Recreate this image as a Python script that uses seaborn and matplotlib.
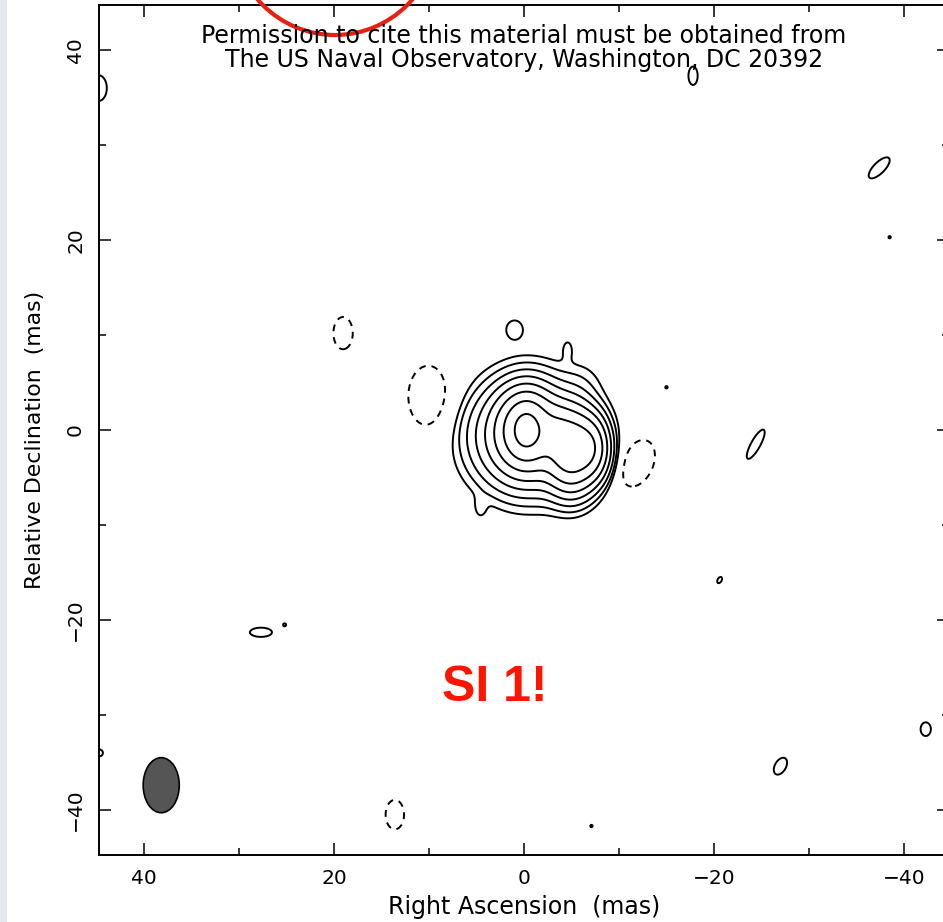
import numpy as np
import matplotlib
matplotlib.use("Agg")
import matplotlib.pyplot as plt
from matplotlib.patches import Ellipse, Rectangle
from matplotlib.ticker import MultipleLocator
import seaborn as sns

# ---- source model: Gaussian components (offsets in mas, flux in units of the lowest contour)
#      core (3 scales), faint envelope, secondary body / edge / bridge, outer extensions
src_ra = [-0.25, -0.25, -0.25, -1.0, -5.0, -7.1, -3.4, -6.0, -4.6, 4.6]
src_dec = [0.1, 0.1, -0.7, -0.5, -2.0, -1.9, 0.3, 5.0, 8.6, -8.2]
src_flux = [41.0, 94.0, 40.0, 2.5, 100.0, 39.0, 15.0, 0.8, 1.0, 1.0]
src_sig_a = [1.0, 1.65, 2.8, 4.5, 1.5, 1.05, 1.0, 1.5, 0.5, 0.5]
src_sig_b = [1.6, 2.2, 2.8, 4.5, 2.3, 1.8, 1.5, 1.5, 0.9, 0.9]
src_pa = [0, 0, 0, 0, 0, 0, 0, 0, 0, 0]

# ---- faint residual patches across the field (negative = dashed)
res_ra = [44.8, -17.8, -37.4, -38.5, 19.05, 1.0, 10.0, -11.8, -15.0,
          -24.4, -20.6, 27.7, 25.2, 44.7, -42.3, -27.0, 13.6, -7.1]
res_dec = [36.0, 37.3, 27.6, 20.3, 10.2, 10.6, 3.5, -3.5, 4.5,
           -1.5, -15.8, -21.3, -20.5, -34.0, -31.5, -35.4, -40.5, -41.7]
res_flux = [1.6, 1.6, 1.6, 1.1, -1.6, 1.6, -1.8, -1.8, 1.1,
            1.6, 1.3, 1.6, 1.1, 1.3, 1.5, 1.6, -1.6, 1.1]
res_sig_a = [0.9, 0.5, 1.5, 0.3, 1.05, 0.8, 2.05, 2.6, 0.3,
             1.8, 0.5, 1.2, 0.3, 0.5, 0.6, 1.0, 1.0, 0.3]
res_sig_b = [1.4, 1.0, 0.6, 0.3, 1.75, 0.9, 3.1, 1.7, 0.3,
             0.5, 0.3, 0.5, 0.3, 0.5, 0.8, 0.6, 1.6, 0.3]
res_pa = [0, 0, 135, 0, 0, 0, 0, 115, 0,
          119, 120, 0, 0, 0, 0, 120, 0, 0]

# contour levels (lowest contour = 1) and axis ticks
levels = [-1, 1, 2, 4, 8, 16, 32, 64, 128]
ra_ticks = [40, 20, 0, -20, -40]
dec_ticks = [-40, -20, 0, 20, 40]

# restoring beam: centre (mas), minor / major FWHM (mas)
beam_ra, beam_dec, beam_w, beam_h = 38.2, -37.4, 3.8, 5.8


def gauss2d(X, Y, x0, y0, amp, sa, sb, pa_deg):
    t = np.deg2rad(pa_deg)
    dx, dy = X - x0, Y - y0
    u = dx * np.cos(t) + dy * np.sin(t)
    v = -dx * np.sin(t) + dy * np.cos(t)
    return amp * np.exp(-0.5 * (u ** 2 / sa ** 2 + v ** 2 / sb ** 2))


grid = np.linspace(-46, 46, 921)
X, Y = np.meshgrid(grid, grid)
image = np.zeros_like(X)
for p in zip(src_ra, src_dec, src_flux, src_sig_a, src_sig_b, src_pa):
    image += gauss2d(X, Y, *p)
for p in zip(res_ra, res_dec, res_flux, res_sig_a, res_sig_b, res_pa):
    image += gauss2d(X, Y, *p)

sns.set_theme(style="ticks")
plt.rcParams["font.family"] = ["DejaVu Sans"]
plt.rcParams["text.color"] = "black"

W, H = 943, 922
fig = plt.figure(figsize=(W / 100, H / 100), dpi=100)
fig.patch.set_facecolor("white")
ax = fig.add_axes([99 / W, (H - 855) / H, 850 / W, 850 / H])

neg = [l for l in levels if l < 0]
pos = [l for l in levels if l > 0]
ax.contour(X, Y, image, levels=neg, colors="black", linewidths=1.4,
           linestyles=[(0, (3.5, 3.0))])
ax.contour(X, Y, image, levels=pos, colors="black", linewidths=1.4,
           linestyles="solid")

ax.add_patch(Ellipse((beam_ra, beam_dec), beam_w, beam_h,
                     facecolor="#555555", edgecolor="black", linewidth=1.2))

ax.set_xlim(44.75, -44.75)
ax.set_ylim(-44.75, 44.75)
ax.set_xticks(ra_ticks)
ax.set_yticks(dec_ticks)
ax.xaxis.set_minor_locator(MultipleLocator(10))
ax.yaxis.set_minor_locator(MultipleLocator(10))
ax.tick_params(which="both", direction="in", top=True, right=True,
               width=1.1, color="black", labelcolor="black")
ax.tick_params(which="major", length=8.5, labelsize=14.5, pad=10)
ax.tick_params(which="minor", length=5)
ax.tick_params(axis="y", labelrotation=90)
for lab in ax.get_yticklabels():
    lab.set_va("center")
for s in ax.spines.values():
    s.set_color("black")
    s.set_linewidth(1.4)
ax.set_facecolor("white")

fig.text(524 / W, 1 - 907 / H, "Right Ascension  (mas)", ha="center",
         va="center", fontsize=17, color="black")
fig.text(35 / W, 1 - 440 / H, "Relative Declination  (mas)", ha="center",
         va="center", rotation=90, fontsize=15.8, color="black")

fig.text(524 / W, 1 - 36 / H,
         "Permission to cite this material must be obtained from",
         ha="center", va="center", fontsize=17, color="black")
fig.text(524 / W, 1 - 60 / H,
         "The US Naval Observatory, Washington, DC 20392",
         ha="center", va="center", fontsize=17, color="black")

fig.text(495 / W, 1 - 688 / H, "SI 1!", ha="center", va="center",
         color="#ff1400", fontsize=36, fontweight="bold",
         family=["Liberation Sans", "DejaVu Sans"])

fig.add_artist(Ellipse((335 / W, 1 + 67 / H), 204 / W, 204 / H,
                       transform=fig.transFigure, fill=False,
                       edgecolor="#e8200f", linewidth=3.0))
fig.add_artist(Rectangle((0, 0), 7 / W, 1, transform=fig.transFigure,
                         facecolor="#e4e9f1", edgecolor="none"))

fig.savefig("out.png", dpi=100)
